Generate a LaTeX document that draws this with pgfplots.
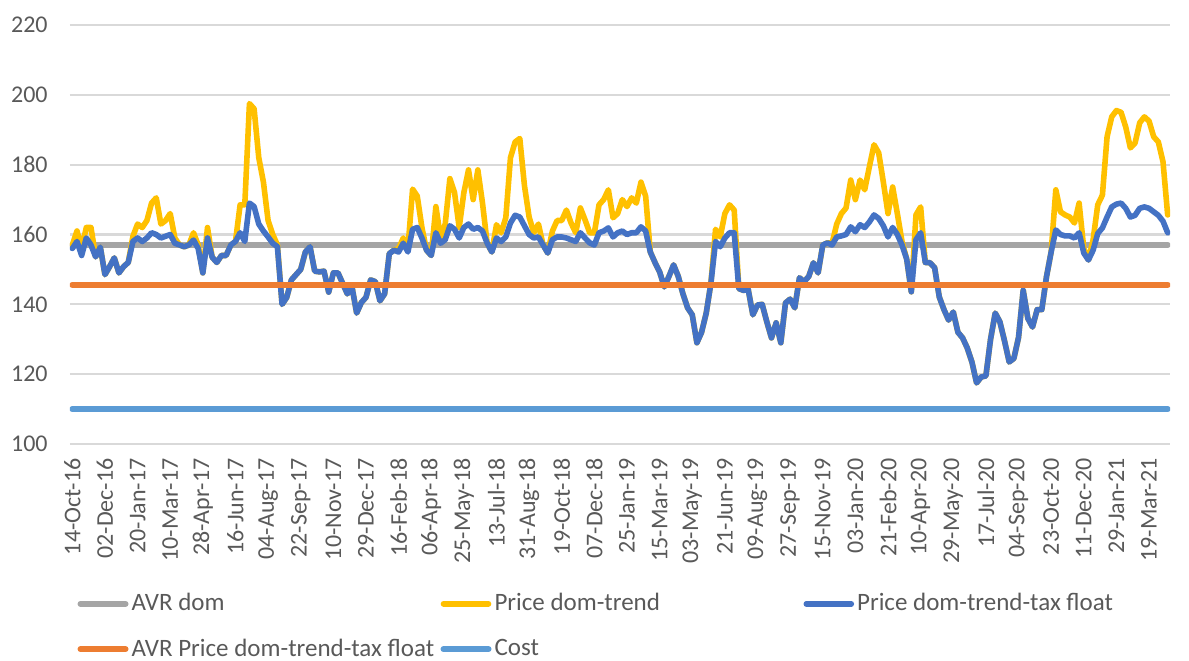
\documentclass[border=0pt]{standalone}
\usepackage{fontspec}
\setmainfont{Carlito}
\usepackage{pgfplots}
\usepackage{pgfplotstable}
\pgfplotsset{compat=1.18}
\definecolor{avrgray}{HTML}{A5A5A5}
\definecolor{trendyel}{HTML}{FFC000}
\definecolor{taxblue}{HTML}{4472C4}
\definecolor{avrorange}{HTML}{ED7D31}
\definecolor{costblue}{HTML}{5B9BD5}
\definecolor{txtgray}{HTML}{595959}
\definecolor{gridgray}{HTML}{D9D9D9}

\pgfplotstableread{
i B Y
0 156 157
1 158 161
2 154 156
3 159 162
4 157 162
5 153.6 153.6
6 156.4 156.4
7 148.5 148.5
8 150.8 150.8
9 153.3 153.3
10 149 149
11 150.8 150.8
12 152 152
13 158 159.5
14 159 163
15 158 162
16 159 164
17 160.5 169
18 160 170.5
19 159 163
20 159.5 164
21 160 166
22 157.5 159
23 157 157
24 156.5 156.5
25 157 157
26 158.4 160.5
27 156 157
28 149 149
29 159 162
30 153.5 153.5
31 152 152
32 154 154
33 154 154
34 157 157
35 158 158
36 160.5 168.5
37 158 168.5
38 169 197.5
39 168 196
40 163 182
41 161 175
42 159.3 164
43 157.5 160
44 156.5 157
45 140 140
46 142 142
47 147 147
48 148.5 148.5
49 150 150
50 155 155
51 156.5 156.5
52 149.5 149.5
53 149.3 149.3
54 149.5 149.5
55 143.5 143.5
56 149 149
57 149 149
58 146 146
59 143 143
60 145 145
61 137.5 137.5
62 140.5 140.5
63 142 142
64 147 147
65 146.5 146.5
66 141 141
67 143 143
68 154.5 154.5
69 155.5 155.5
70 155 156
71 157.5 159
72 155 156
73 161.5 173
74 162 171
75 159 162
76 155.5 155.5
77 154 154
78 160.5 168
79 157.5 159
80 158.5 163
81 162.5 176
82 161.5 172
83 159 162
84 162 172
85 163 178.5
86 161.5 170
87 162 178.5
88 161 169
89 157.5 157.5
90 155 155
91 159 162.8
92 158 160.5
93 159.3 164.8
94 163.3 182
95 165.5 186.5
96 165 187.5
97 162.5 174
98 160 165
99 159 160.5
100 159.3 163
101 157 157
102 154.7 154.7
103 158.5 161
104 159.3 164
105 159.3 164
106 159 167
107 158.5 163.3
108 158 160.5
109 160.5 167.6
110 159 164.2
111 157.6 160.5
112 157 160.5
113 160.5 168.5
114 161 170
115 161.9 172.8
116 159.3 164.8
117 160.5 166
118 161 170
119 160 168
120 160.5 170.5
121 160.5 169
122 162.2 175
123 161 171
124 155 155
125 152 152
126 149.3 149.3
127 145 145
128 148 148
129 151.3 151.3
130 148 148
131 143 143
132 139 139
133 137 137
134 129 129
135 132 132
136 137.5 137.5
137 146 146
138 158 161.5
139 156.5 159.3
140 159 166
141 160.5 168.5
142 160.5 167
143 144.5 144.5
144 144 144
145 144.3 144.3
146 137 137
147 139.8 139.8
148 140 140
149 135 135
150 130.4 130.4
151 134.7 134.7
152 129 129
153 140.4 140.4
154 141.5 141.5
155 139 139
156 147.6 147.6
157 146.5 146.5
158 148 148
159 151.9 151.9
160 149 149
161 157 157
162 157.6 157.6
163 157 157.5
164 159.3 163
165 159.6 166
166 160 167.6
167 162.2 175.6
168 160.8 170
169 162.8 175.6
170 162 172.8
171 163.6 179.4
172 165.6 185.7
173 164.6 183.4
174 162.5 175
175 159.3 166
176 162 173.6
177 160 166
178 157 158
179 153 153
180 143.6 143.6
181 158.5 165.6
182 160.5 167.9
183 152 152
184 151.9 151.9
185 150.5 150.5
186 142.1 142.1
187 138.5 138.5
188 135.5 135.5
189 137.8 137.8
190 132 132
191 130.4 130.4
192 127.5 127.5
193 123.5 123.5
194 117.5 117.5
195 119.2 119.2
196 119.5 119.5
197 130 130
198 137.5 137.5
199 135 135
200 129.5 129.5
201 123.5 123.5
202 124.5 124.5
203 130.5 130.5
204 144 144
205 136 136
206 133.5 133.5
207 138.5 138.5
208 138.5 138.5
209 147.9 147.9
210 155 155
211 161.3 172.8
212 160 166.5
213 159.6 165.6
214 159.6 165
215 159 163.3
216 160.5 169
217 154.7 156
218 152.7 152.7
219 155.5 158.5
220 160.3 168.5
221 161.9 171.3
222 165 188
223 167.9 193.7
224 168.7 195.5
225 169 195
226 167.5 190.8
227 165 184.8
228 165.5 186.2
229 167.5 192
230 167.9 193.7
231 167.5 192.5
232 166.5 188
233 165.5 186.5
234 163.8 180.8
235 160.5 165.6
}\prices

\begin{document}
\begin{tikzpicture}
\begin{axis}[
  scale only axis,
  width=550pt, height=209.5pt,
  at={(0,0)}, anchor=south west,
  xmin=-0.5, xmax=235.5,
  ymin=100, ymax=220,
  ytick={100,120,...,220},
  xtick={0,7,...,231},
  xticklabels={14-Oct-16,02-Dec-16,20-Jan-17,10-Mar-17,28-Apr-17,16-Jun-17,04-Aug-17,22-Sep-17,10-Nov-17,29-Dec-17,16-Feb-18,06-Apr-18,25-May-18,13-Jul-18,31-Aug-18,19-Oct-18,07-Dec-18,25-Jan-19,15-Mar-19,03-May-19,21-Jun-19,09-Aug-19,27-Sep-19,15-Nov-19,03-Jan-20,21-Feb-20,10-Apr-20,29-May-20,17-Jul-20,04-Sep-20,23-Oct-20,11-Dec-20,29-Jan-21,19-Mar-21},
  major tick length=0pt,
  axis line style={draw=none},
  ymajorgrids,
  grid style={color=gridgray, line width=1.1pt},
  /pgf/number format/assume math mode=true,
  tick label style={font=\fontsize{12}{14}\selectfont, text=txtgray},
  yticklabel style={anchor=east, inner sep=0pt, xshift=-11pt},
  xticklabel style={rotate=90, anchor=east, inner sep=0pt, xshift=-7pt},
  legend columns=3,
  legend cell align=left,
  legend style={draw=none, fill=none, at={(0.001,-0.337)}, anchor=north west,
    font=\fontsize{12.5}{14}\selectfont, text=txtgray,
    nodes={inner xsep=1.5pt},
    /tikz/every odd column/.append style={column sep=0pt},
    row sep=8.5pt},
  legend image code/.code={\draw[#1, line cap=round] (0pt,0pt) -- (22.5pt,0pt);},
  every axis plot/.append style={line cap=round, line join=round},
]
\addplot[avrgray, line width=3pt] coordinates {(0,157) (235,157)};
\addlegendentry{\makebox[153pt][l]{AVR dom}}
\addplot[trendyel, line width=2.8pt] table[x=i, y=Y] {\prices};
\addlegendentry{\makebox[153pt][l]{Price dom-trend}}
\addplot[taxblue, line width=2.8pt] table[x=i, y=B] {\prices};
\addlegendentry{\makebox[153pt][l]{Price dom-trend-tax float}}
\addplot[avrorange, line width=3pt] coordinates {(0,145.6) (235,145.6)};
\addlegendentry{\makebox[153pt][l]{AVR Price dom-trend-tax float}}
\addplot[costblue, line width=3pt] coordinates {(0,110) (235,110)};
\addlegendentry{\makebox[153pt][l]{Cost}}
\end{axis}
\pgfresetboundingbox
\path[use as bounding box] (-35pt,-108pt) rectangle (559.5pt,222pt);
\end{tikzpicture}
\end{document}
